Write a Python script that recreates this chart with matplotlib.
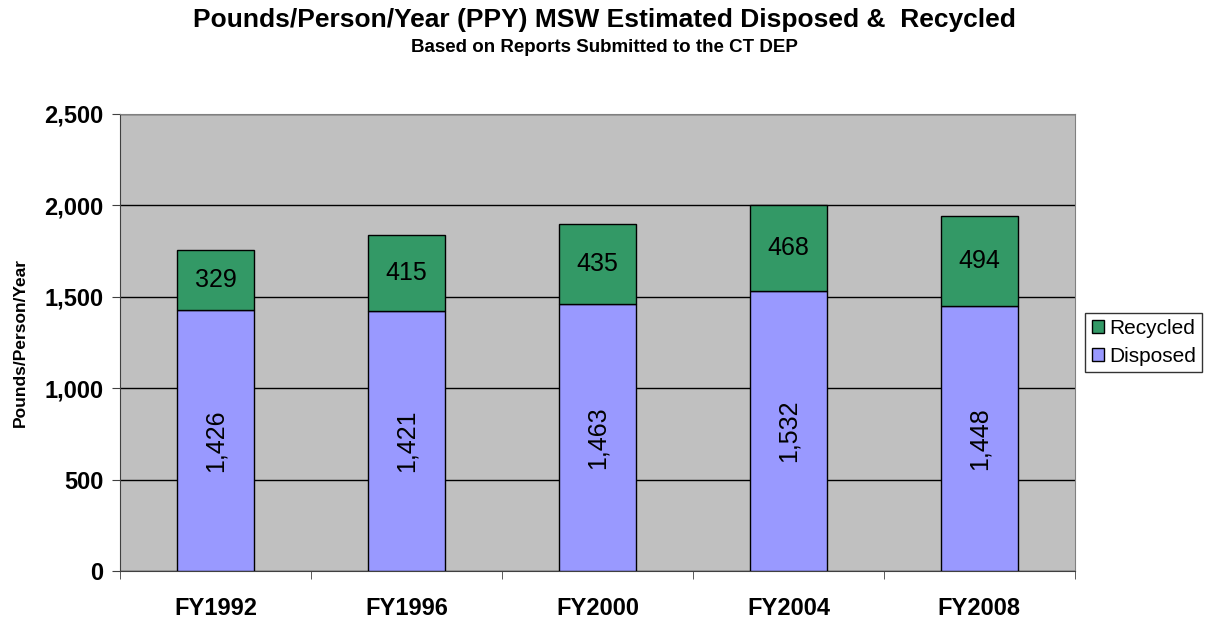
import matplotlib.pyplot as plt
import numpy as np
from matplotlib.ticker import FuncFormatter, FixedLocator

years = ["FY1992", "FY1996", "FY2000", "FY2004", "FY2008"]
disposed = [1426, 1421, 1463, 1532, 1448]
recycled = [329, 415, 435, 468, 494]

FONT = ['Liberation Sans', 'DejaVu Sans']
plt.rcParams['font.family'] = FONT

fig = plt.figure(figsize=(12.09, 6.22), dpi=100)
ax = fig.add_axes([0.0993, 0.082, 0.7897, 0.7348])
ax.set_facecolor("#C0C0C0")

x = np.arange(len(years))
w = 0.4
b1 = ax.bar(x, disposed, w, color="#9999FF", edgecolor="black", linewidth=1, label="Disposed", zorder=3)
b2 = ax.bar(x, recycled, w, bottom=disposed, color="#339966", edgecolor="black", linewidth=1, label="Recycled", zorder=3)

for i in range(len(years)):
    ax.text(x[i], disposed[i] / 2, f"{disposed[i]:,}", rotation=90, ha="center", va="center",
            fontsize=18, zorder=4)
    ax.text(x[i], disposed[i] + recycled[i] / 2, f"{recycled[i]:,}", ha="center", va="center",
            fontsize=18, zorder=4)

ax.set_xlim(-0.5, len(years) - 0.5)
ax.set_ylim(0, 2500)
ax.set_yticks(range(0, 2501, 500))
ax.yaxis.set_major_formatter(FuncFormatter(lambda v, p: f"{int(v):,}"))
ax.yaxis.grid(True, color="black", linewidth=1, zorder=1)
ax.set_axisbelow(True)

ax.set_xticks(x)
ax.set_xticklabels(years, fontsize=17, fontweight="bold")
ax.xaxis.set_minor_locator(FixedLocator(np.arange(-0.5, len(years), 1.0)))
ax.tick_params(axis="x", which="major", length=0, pad=19)
ax.tick_params(axis="x", which="minor", length=6, direction="out", color="#404040")
ax.tick_params(axis="y", length=6, direction="out", color="#404040", pad=6)
for lbl in ax.get_yticklabels():
    lbl.set_fontsize(17)
    lbl.set_fontweight("bold")

for s in ["top", "right"]:
    ax.spines[s].set_color("#808080")
ax.spines["left"].set_color("#404040")
ax.spines["bottom"].set_color("#404040")

ax.set_ylabel("Pounds/Person/Year", fontsize=12.5, fontweight="bold", labelpad=12)

fig.text(0.5, 0.968, "Pounds/Person/Year (PPY) MSW Estimated Disposed &  Recycled",
         ha="center", va="center", fontsize=19, fontweight="bold")
fig.text(0.5, 0.923, "Based on Reports Submitted to the CT DEP", ha="center", va="center",
         fontsize=13.5, fontweight="bold")

leg = ax.legend(handles=[b2, b1], labels=["Recycled", "Disposed"], loc="center left",
                bbox_to_anchor=(1.011, 0.5), frameon=True, fancybox=False,
                handlelength=0.6, handleheight=0.6, handletextpad=0.25, borderpad=0.3,
                borderaxespad=0, labelspacing=0.45, prop={'family': FONT, 'size': 15})
leg.get_frame().set_edgecolor("black")
leg.get_frame().set_linewidth(1)

fig.savefig("out.png", dpi=100)
